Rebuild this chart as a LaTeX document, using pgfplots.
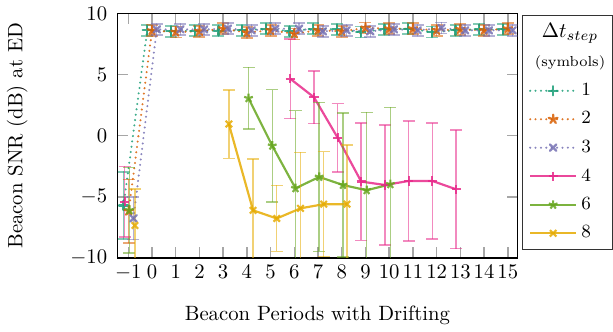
\documentclass[border=0pt]{standalone}
\usepackage{pgfplots}
\pgfplotsset{compat=1.18}
\definecolor{cA}{HTML}{1B9E77}
\definecolor{cB}{HTML}{D95F02}
\definecolor{cC}{HTML}{7570B3}
\definecolor{cD}{HTML}{E7298A}
\definecolor{cE}{HTML}{66A61E}
\definecolor{cF}{HTML}{E6AB02}
\pgfplotsset{
  errstyle/.style={error bars/.cd, y dir=both, y explicit,
    error bar style={line width=0.7pt, opacity=0.55, solid},
    error mark options={rotate=90, mark size=2.9pt, line width=0.7pt, opacity=0.55, solid}},
  dotline/.style={line width=1.1pt, dash pattern=on 0pt off 2.6pt, line cap=round, opacity=0.85, mark options={solid}, mark size=2.2pt},
  solline/.style={line width=1.05pt, opacity=0.85, mark options={solid}, mark size=2.2pt},
}
\begin{document}
\begin{tikzpicture}
\begin{axis}[
  scale only axis, width=193pt, height=118pt,
  xmin=-1.45, xmax=15.4, ymin=-10, ymax=10,
  xtick={-1,0,1,2,3,4,5,6,7,8,9,10,11,12,13,14,15},
  ytick={-10,-5,0,5,10},
  tick align=inside, major tick length=5.2pt,
  tick style={gray!70, line width=0.7pt},
  axis line style={black, line width=0.6pt},
  xlabel={Beacon Periods with Drifting},
  ylabel={Beacon SNR (dB) at ED},
  xlabel style={at={(axis description cs:0.5,-0.235)}, anchor=center},
  ylabel style={at={(axis description cs:-0.251,0.5)}, anchor=center},
  yticklabel style={xshift=-1.5pt},
  legend cell align=left,
  legend style={at={(axis description cs:1.0125,0.995)}, anchor=north west, draw=black!80, line width=0.5pt, row sep=2.25pt, font=\small},
  legend image code/.code={\draw[mark repeat=2,mark phase=2,#1] plot coordinates {(0cm,0cm) (0.39cm,0cm) (0.78cm,0cm)};},
]
\addlegendimage{empty legend}
\addlegendentry{\makebox[10pt][l]{\hspace{-22.5pt}\shortstack{\normalsize$\Delta t_{step}$\\[3pt]\scriptsize(symbols)}}}

\addplot[color=cA, mark=+, dotline, errstyle] coordinates {
(-1.2,-5.7) +- (0,2.75)
(-0.2,8.63) +- (0,0.45) (0.8,8.55) +- (0,0.45) (1.8,8.6) +- (0,0.45) (2.8,8.6) +- (0,0.45)
(3.8,8.63) +- (0,0.45) (4.8,8.76) +- (0,0.45) (5.8,8.55) +- (0,0.45) (6.8,8.76) +- (0,0.45)
(7.8,8.71) +- (0,0.45) (8.8,8.49) +- (0,0.45) (9.8,8.71) +- (0,0.45) (10.8,8.76) +- (0,0.45)
(11.8,8.49) +- (0,0.45) (12.8,8.63) +- (0,0.45) (13.8,8.71) +- (0,0.45) (14.8,8.71) +- (0,0.45)
};
\addlegendentry{1}

\addplot[color=cB, mark=star, dotline, errstyle] coordinates {
(-0.98,-6.16) +- (0,2.6)
(0,8.6) +- (0,0.45) (1,8.49) +- (0,0.45) (2,8.55) +- (0,0.45) (3,8.76) +- (0,0.45)
(4,8.44) +- (0,0.45) (5,8.63) +- (0,0.45) (6,8.35) +- (0,0.45) (7,8.63) +- (0,0.45)
(8,8.55) +- (0,0.45) (9,8.82) +- (0,0.45) (10,8.76) +- (0,0.45) (11,8.76) +- (0,0.45)
(12,8.63) +- (0,0.45) (13,8.71) +- (0,0.45) (14,8.63) +- (0,0.45) (15,8.76) +- (0,0.45)
};
\addlegendentry{2}

\addplot[color=cC, mark=x, dotline, errstyle] coordinates {
(-0.78,-6.76) +- (0,1.75)
(0.2,8.7) +- (0,0.45) (1.2,8.71) +- (0,0.45) (2.2,8.7) +- (0,0.45) (3.2,8.76) +- (0,0.45)
(4.2,8.63) +- (0,0.45) (5.2,8.76) +- (0,0.45) (6.2,8.76) +- (0,0.45) (7.2,8.55) +- (0,0.45)
(8.2,8.63) +- (0,0.45) (9.2,8.55) +- (0,0.45) (10.2,8.71) +- (0,0.45) (11.2,8.63) +- (0,0.45)
(12.2,8.82) +- (0,0.45) (13.2,8.63) +- (0,0.45) (14.2,8.63) +- (0,0.45) (15.2,8.63) +- (0,0.45)
};
\addlegendentry{3}

\addplot[color=cD, mark=+, solline, errstyle] coordinates {
(5.83,4.66) +- (0,3.27) (6.83,3.15) +- (0,2.15) (7.83,-0.17) +- (0,2.8)
(8.82,-3.75) +- (0,4.8) (9.83,-4.03) +- (0,4.92) (10.82,-3.7) +- (0,4.9)
(11.82,-3.7) +- (0,4.75) (12.82,-4.38) +- (0,4.85)
};
\addlegendentry{4}

\addplot[color=cE, mark=star, solline, errstyle] coordinates {
(4.07,3.07) +- (0,2.52) (5.07,-0.82) +- (0,4.6) (6.05,-4.3) +- (0,6.35)
(7.05,-3.37) +- (0,6.1) (8.05,-4.03) +- (0,5.9) (9.05,-4.46) +- (0,6.38)
(10.05,-3.97) +- (0,6.3)
};
\addlegendentry{6}

\addplot[color=cF, mark=x, solline, errstyle] coordinates {
(3.24,0.96) +- (0,2.8) (4.26,-6.1) +- (0,4.18) (5.26,-6.77) +- (0,2.7)
(6.26,-5.94) +- (0,4.57) (7.24,-5.6) +- (0,4.3) (8.22,-5.6) +- (0,4.86)
};
\addlegendentry{8}

\addplot[forget plot, color=cD, mark=+, only marks, solline, errstyle] coordinates {(-1.15,-5.4) +- (0,2.9)};
\addplot[forget plot, color=cE, mark=star, only marks, solline, errstyle] coordinates {(-0.95,-6.1) +- (0,3.5)};
\addplot[forget plot, color=cF, mark=x, only marks, solline, errstyle] coordinates {(-0.72,-7.34) +- (0,3.0)};
\end{axis}
\end{tikzpicture}
\end{document}
